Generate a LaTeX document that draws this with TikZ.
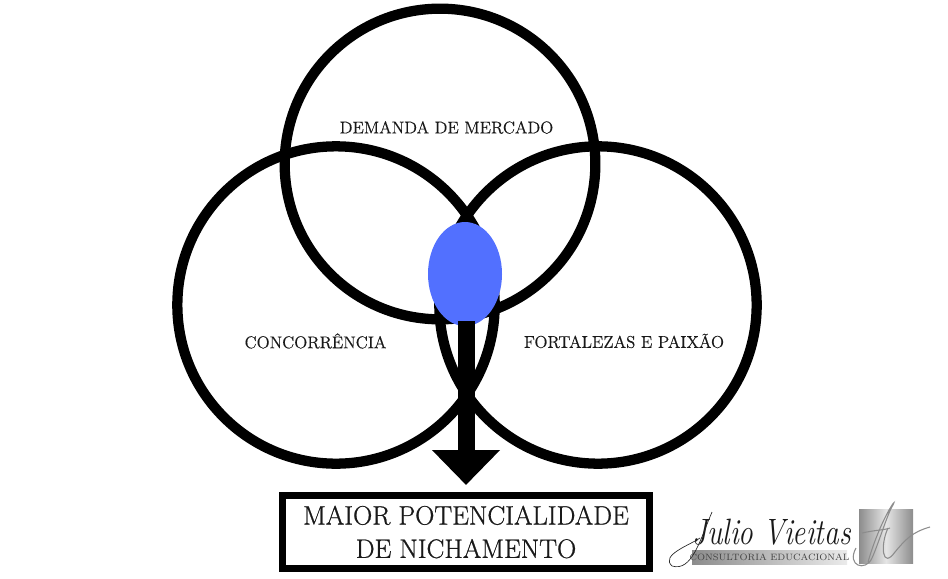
\documentclass[tikz,border=0pt]{standalone}
\usepackage{fontspec}
\usetikzlibrary{arrows.meta,shapes.geometric}
\newfontfamily\heavyfont[FakeBold=0.35]{Latin Modern Roman}
\newfontfamily\heavierfont[FakeBold=0.8]{Latin Modern Roman}
\definecolor{blobblue}{HTML}{5270FF}
\tikzset{
  ring/.style={circle,draw=black,line width=7.7pt,minimum size=238pt,inner sep=0pt,outer sep=0pt},
  lbl/.style={font=\heavyfont\fontsize{12.8}{15}\selectfont,text=black!90,inner sep=0pt},
}
\begin{document}
\begin{tikzpicture}[x=.75pt,y=-.75pt,>=latex]
\useasboundingbox (0,0) rectangle (948,578);
\node[ring,minimum size=233pt] (mercado) at (440,164) {};
\node[ring] (concorrencia) at (336,305) {};
\node[ring] (fortalezas) at (598,305) {};
\node[ellipse,fill=blobblue,minimum width=55.5pt,minimum height=78pt,inner sep=0pt,outer sep=0pt] (nicho) at (465,274) {};
\node[draw=black,line width=5.5pt,minimum width=275pt,minimum height=55pt,inner sep=0pt,align=center,
  font=\heavierfont\fontsize{20}{25}\selectfont,text=black!90] (potencial) at (466,532) {MAIOR POTENCIALIDADE\\DE NICHAMENTO};
\coordinate (setatopo) at (potencial.north |- nicho.south);
\draw[line width=12.75pt,-{Triangle[width=49.5pt,length=26.25pt]},shorten <=-5*.75pt,shorten >=5pt] (setatopo) -- (potencial.north);
\node[lbl] (demanda) at (446.5,127.5) {DEMANDA DE MERCADO};
\node[lbl] (concor) at (315.5,341) {CONCORRÊNCIA};
\node[lbl] (paixao) at (624,341) {FORTALEZAS E PAIXÃO};
% logo
\shade[left color=black!45,right color=black!45,middle color=black!10] (859,509) rectangle (913,563);
\draw[black!45,line width=.8pt] (868,562) .. controls (880,520) and (898,495) .. (893,505) .. controls (888,512) and (878,545) .. (872,558) .. controls (866,572) and (846,566) .. (856,548);
\draw[black!45,line width=.8pt] (862,533) .. controls (875,530) and (885,530) .. (890,528);
\draw[black!45,line width=.8pt] (888,528) .. controls (880,545) and (882,570) .. (895,552) .. controls (905,540) and (912,532) .. (930,527);
\shade[left color=black!45,right color=black!8] (692,550) rectangle (847,564);
\node[font=\fontsize{6.9}{9}\selectfont,text=black!75,inner sep=0pt] (consultoria) at (769.5,557) {CONSULTORIA EDUCACIONAL};
\node[font=\fontsize{22}{26}\selectfont\itshape,text=black!90,inner sep=0pt,anchor=base west,yscale=1.25] (assinatura) at (692,544) {Julio Vieitas};
\draw[black!85,line width=.5pt] (712,512) .. controls (700,540) and (692,572) .. (672,566) .. controls (660,555) and (690,545) .. (700,538);
\end{tikzpicture}
\end{document}
